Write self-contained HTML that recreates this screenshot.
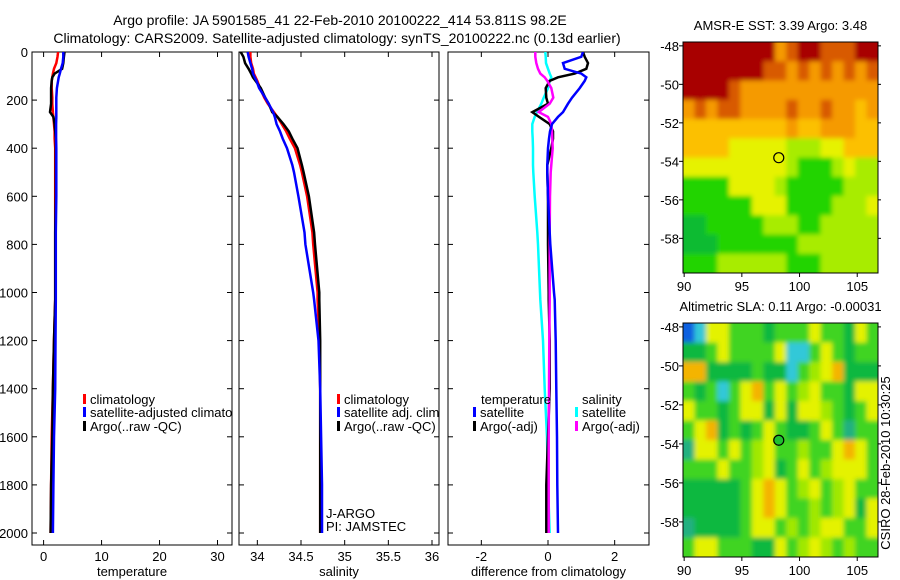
<!DOCTYPE html>
<html><head><meta charset="utf-8"><style>
html,body{margin:0;padding:0;background:#fff;}
svg{display:block;font-family:"Liberation Sans",sans-serif;}
text{fill:#000;}
</style></head><body>
<svg id="fig" width="900" height="580" viewBox="0 0 900 580" xmlns="http://www.w3.org/2000/svg">
<defs><filter id="soft" x="-5%" y="-5%" width="110%" height="110%"><feGaussianBlur stdDeviation="2.5"/></filter></defs>
<text x="340" y="25" font-size="14" text-anchor="middle">Argo profile: JA 5901585_41 22-Feb-2010 20100222_414 53.811S 98.2E</text>
<text x="337" y="43" font-size="14" text-anchor="middle">Climatology: CARS2009. Satellite-adjusted climatology: synTS_20100222.nc (0.13d earlier)</text>
<g id="g"></g>
</svg>
<script>
// ---------- data ----------
const depths = [0,20,46,70,90,105,120,150,190,215,250,270,300,330,360,400,470,500,600,750,800,1000,1030,1200,1400,1600,1800,2000];
const tempClim = [2.5,2.4,2.2,1.8,1.6,1.5,1.4,1.4,1.5,1.5,1.6,1.7,1.8,1.9,1.9,2.0,2.0,2.0,2.0,2.0,2.0,2.0,2.0,1.8,1.6,1.4,1.3,1.2];
const tempSat  = [3.4,3.4,3.3,3.0,2.8,2.6,2.5,2.3,2.2,2.2,2.2,2.2,2.15,2.15,2.15,2.2,2.2,2.2,2.2,2.1,2.1,2.1,2.1,2.05,2.0,1.8,1.7,1.6];
const tempArgo = [3.6,3.5,3.4,3.2,1.9,1.5,1.4,1.3,1.3,1.3,1.1,1.7,1.9,2.0,2.1,2.1,2.1,2.1,2.1,2.0,2.0,2.0,2.0,1.8,1.6,1.5,1.3,1.2];
const salClim = [33.92,33.92,33.93,33.95,33.96,33.98,34.0,34.03,34.08,34.12,34.19,34.23,34.28,34.33,34.37,34.43,34.49,34.51,34.57,34.63,34.64,34.69,34.69,34.71,34.72,34.72,34.72,34.72];
const salSat  = [33.89,33.9,33.92,33.94,33.95,33.97,33.99,34.02,34.09,34.13,34.18,34.2,34.22,34.26,34.29,34.34,34.4,34.42,34.47,34.54,34.55,34.64,34.65,34.7,34.72,34.73,34.74,34.74];
const salArgo = [33.81,33.84,33.86,33.9,33.93,33.95,33.98,34.04,34.09,34.13,34.17,34.23,34.3,34.36,34.4,34.46,34.51,34.53,34.59,34.65,34.66,34.71,34.71,34.72,34.72,34.72,34.72,34.72];
const dTempSat  = [1.05,1.0,0.45,0.5,1.0,1.15,1.1,0.95,0.72,0.6,0.45,0.3,0.12,0.06,0.03,0.0,-0.02,-0.02,0.0,0.05,0.07,0.18,0.2,0.23,0.25,0.27,0.28,0.3];
const dTempArgo = [1.05,1.1,1.2,1.15,0.8,0.3,0.05,-0.07,-0.05,0.0,-0.47,-0.27,0.05,0.15,0.15,0.1,-0.02,-0.02,0.0,0.0,0.0,0.02,0.02,0.05,0.05,0.0,-0.05,-0.05];
const dSalSat   = [-0.08,-0.07,-0.06,0.0,0.05,0.1,0.05,0.0,-0.13,-0.2,-0.33,-0.4,-0.47,-0.47,-0.46,-0.45,-0.45,-0.44,-0.4,-0.32,-0.3,-0.24,-0.23,-0.15,-0.1,-0.03,0.0,0.05];
const dSalArgo  = [-0.38,-0.38,-0.35,-0.3,-0.23,-0.1,-0.02,0.1,0.16,0.05,-0.28,0.0,0.1,0.12,0.13,0.14,0.1,0.08,0.06,0.05,0.05,0.05,0.05,0.04,0.03,0.02,0.02,0.02];
const depthTicks = [0,200,400,600,800,1000,1200,1400,1600,1800,2000];
const tempTicks = [0,10,20,30];
const salTicks = [34,34.5,35,35.5,36];
const diffTicks = [-2,0,2];
const latTicks = [-48,-50,-52,-54,-56,-58];
const lonTicks = [90,95,100,105];
const argoLon = 98.2, argoLat = -53.811;
// SST map rows (lat -48 .. -59), cols lon 90..106
const sstGrid = [
 "RRRRRRRRorRRrrrRR",
 "RRRRRRRrrorororor",
 "RRRRroooooooooooo",
 "ororrooooroorooao",
 "aaaaaaaaaoaaoooaa",
 "aaaayyyyylllyyaaa",
 "yyyyyyyyylggglyll",
 "ggggyyyylggggglll",
 "ggggggyyyggggllly",
 "GGggggglllgglllll",
 "GGGggggggglllllll",
 "gggllllllggglllll"
];
// SLA map
const slaGrid = [
 "BcyygggDgggyggDyg",
 "DDgyggggyccgygDgg",
 "ooDDDDgDDcglyoDDD",
 "gDgcgyogyglyggDyy",
 "yggDgyyDyDyylgDgy",
 "gyoDgDgygDDgygtgg",
 "tyygyglygglggyoyg",
 "gggygglyDgyglyyyg",
 "DDDDDgyoyglyglygg",
 "DDDDDgyoygglglyDy",
 "tDDDDgyyglglyyggy",
 "gyygggDDyglylglgg"
];
// ---------- helpers ----------
const NS="http://www.w3.org/2000/svg";
const G=document.getElementById('g');
function el(tag,attrs,parent){const e=document.createElementNS(NS,tag);for(const k in attrs)e.setAttribute(k,attrs[k]);(parent||G).appendChild(e);return e;}
function txt(x,y,s,size,anchor,parent){const t=el('text',{x:x,y:y,'font-size':size,'text-anchor':anchor||'start'},parent);t.textContent=s;return t;}

const PT=52, PB=545;
const yD = d => 52 + d*0.2405;
const panels = [
 {x0:32,x1:232,dom:[-2,32.5],ticks:tempTicks,label:'temperature',name:'temperature-panel'},
 {x0:239,x1:439,dom:[33.79,36.08],ticks:salTicks,label:'salinity',name:'salinity-panel'},
 {x0:448,x1:649,dom:[-3.0,3.03],ticks:diffTicks,label:'difference from climatology',name:'difference-panel'}
];
panels.forEach((p,i)=>{
  p.sx = v => p.x0 + (v-p.dom[0])/(p.dom[1]-p.dom[0])*(p.x1-p.x0);
  const g=el('g',{});
  
  
  const cid='clip'+i;
  const cp=el('clipPath',{id:cid},g); el('rect',{x:p.x0,y:PT,width:p.x1-p.x0,height:PB-PT},cp);
  p.g=g; p.clip='url(#'+cid+')';
  el('rect',{x:p.x0,y:PT,width:p.x1-p.x0,height:PB-PT,fill:'none',stroke:'#000','stroke-width':1},g);
  depthTicks.forEach(d=>{
    const y=yD(d);
    el('line',{x1:p.x0,x2:p.x0+5,y1:y,y2:y,stroke:'#000'},g);
    el('line',{x1:p.x1,x2:p.x1-5,y1:y,y2:y,stroke:'#000'},g);
    if(i===0){const t=txt(p.x0-4,y+5,String(d),13,'end',g);
      
      }
  });
  p.ticks.forEach(v=>{
    const x=p.sx(v);
    el('line',{x1:x,x2:x,y1:PB,y2:PB-5,stroke:'#000'},g);
    el('line',{x1:x,x2:x,y1:PT,y2:PT+5,stroke:'#000'},g);
    const t=txt(x,561,String(v),13,'middle',g);
    
    
  });
  const xl=txt((p.x0+p.x1)/2,576,p.label,13,'middle',g);
  
  
});
function series(p,vals,color,name,w){
  const pts=vals.map((v,k)=>p.sx(v).toFixed(1)+','+yD(depths[k]).toFixed(1)).join(' ');
  const l=el('polyline',{points:pts,fill:'none',stroke:color,'stroke-width':w||2.5,'clip-path':p.clip},p.g);
  
  
}
series(panels[0],tempClim,'#ff0000','temp-climatology-line');
series(panels[0],tempArgo,'#000000','temp-argo-line');
series(panels[0],tempSat,'#0000ff','temp-satellite-line');
series(panels[1],salClim,'#ff0000','sal-climatology-line');
series(panels[1],salArgo,'#000000','sal-argo-line');
series(panels[1],salSat,'#0000ff','sal-satellite-line');
series(panels[2],dSalSat,'#00ffff','diff-sal-satellite-line');
series(panels[2],dTempArgo,'#000000','diff-temp-argo-line');
series(panels[2],dSalArgo,'#ff00ff','diff-sal-argo-line');
series(panels[2],dTempSat,'#0000ff','diff-temp-satellite-line');

function legend(p,x,y,color,label){
  const g=el('g',{'clip-path':p.clip},p.g);
  
  
  el('rect',{x:x,y:y-10,width:3,height:10,fill:color},g);
  txt(x+7,y,label,13,'start',g);
}
legend(panels[0],83,404,'#ff0000','climatology');
legend(panels[0],83,417,'#0000ff','satellite-adjusted climatology');
legend(panels[0],83,431,'#000000','Argo(..raw -QC)');
legend(panels[1],337,404,'#ff0000','climatology');
legend(panels[1],337,417,'#0000ff','satellite adj. clim.');
legend(panels[1],337,431,'#000000','Argo(..raw -QC)');
txt(481,404,'temperature',13,'start',panels[2].g);
legend(panels[2],473,417,'#0000ff','satellite');
legend(panels[2],473,431,'#000000','Argo(-adj)');
txt(582,404,'salinity',13,'start',panels[2].g);
legend(panels[2],575,417,'#00ffff','satellite');
legend(panels[2],575,431,'#ff00ff','Argo(-adj)');
const ja=txt(326,518,'J-ARGO',13,'start',panels[1].g);


const pi=txt(326,531,'PI: JAMSTEC',13,'start',panels[1].g);



// ---------- maps ----------
const sstColors={R:'#a80000',r:'#d85a00',o:'#f59a00',a:'#fcc000',y:'#e6f200',l:'#a8ec00',g:'#20d400',G:'#10bb30'};
const slaColors={B:'#1060e0',c:'#30c8d8',t:'#20b080',D:'#10b840',g:'#40d420',l:'#a0e800',y:'#e4f200',o:'#f4b400'};
let mapIdx=0;
function map(top,bottom,grid,colors,title,name,filled){
  const x0=683,x1=878;
  const lonD=[89.9,106.8], latD=[-47.8,-59.8];
  const sx=v=>x0+(v-lonD[0])/(lonD[1]-lonD[0])*(x1-x0);
  const sy=v=>top+(v-latD[0])/(latD[1]-latD[0])*(bottom-top);
  const g=el('g',{});
  
  
  const cid='mclip'+(mapIdx++);
  const cp=el('clipPath',{id:cid},g); el('rect',{x:x0,y:top,width:x1-x0,height:bottom-top},cp);
  const cg=el('g',{'clip-path':'url(#'+cid+')'},g);
  const fg=el('g',{filter:'url(#soft)'},cg);
  const rows=grid.length;
  grid.forEach((row,r)=>{
    const cols=row.length;
    for(let c=0;c<cols;c++){
      const lonA=lonD[0]+c*(lonD[1]-lonD[0])/cols, lonB=lonD[0]+(c+1)*(lonD[1]-lonD[0])/cols;
      const latA=latD[0]+r*(latD[1]-latD[0])/rows, latB=latD[0]+(r+1)*(latD[1]-latD[0])/rows;
      let xa=sx(lonA), xb=sx(lonB)+0.6, ya=sy(latA), yb=sy(latB)+0.6;
      if(c===0) xa-=6; if(c===cols-1) xb+=6; if(r===0) ya-=6; if(r===rows-1) yb+=6;
      const cell=el('rect',{x:xa,y:ya,width:xb-xa,height:yb-ya,fill:colors[row[c]]||'#40d420'},fg);
      
      
    }
  });
  el('rect',{x:x0,y:top,width:x1-x0,height:bottom-top,fill:'none',stroke:'#000'},g);
  latTicks.forEach(v=>{const y=sy(v);
    el('line',{x1:x0-4,x2:x0,y1:y,y2:y,stroke:'#000'},g);
    el('line',{x1:x1,x2:x1+3,y1:y,y2:y,stroke:'#000'},g);
    const t=txt(x0-4,y+5,String(v),13,'end',g);
    
    });
  lonTicks.forEach(v=>{const x=sx(v);
    el('line',{x1:x,x2:x,y1:bottom,y2:bottom+4,stroke:'#000'},g);
    const t=txt(x,bottom+18,String(v),13,'middle',g);
    
    });
  const tt=txt((x0+x1)/2,top-12,title,13,'middle',g);
  
  
  const m=el('circle',{cx:sx(argoLon),cy:sy(argoLat),r:5,fill:filled?'#20c030':'none',stroke:'#000','stroke-width':1.2},g);
  
  
}
map(42,273,sstGrid,sstColors,'AMSR-E SST: 3.39 Argo: 3.48','sst-map',false);
map(323,557,slaGrid,slaColors,'Altimetric SLA: 0.11 Argo: -0.00031','sla-map',true);
const cs=txt(0,0,'CSIRO 28-Feb-2010 10:30:25',13,'middle');
cs.setAttribute('transform','translate(890,463) rotate(-90)');


</script>
</body></html>
